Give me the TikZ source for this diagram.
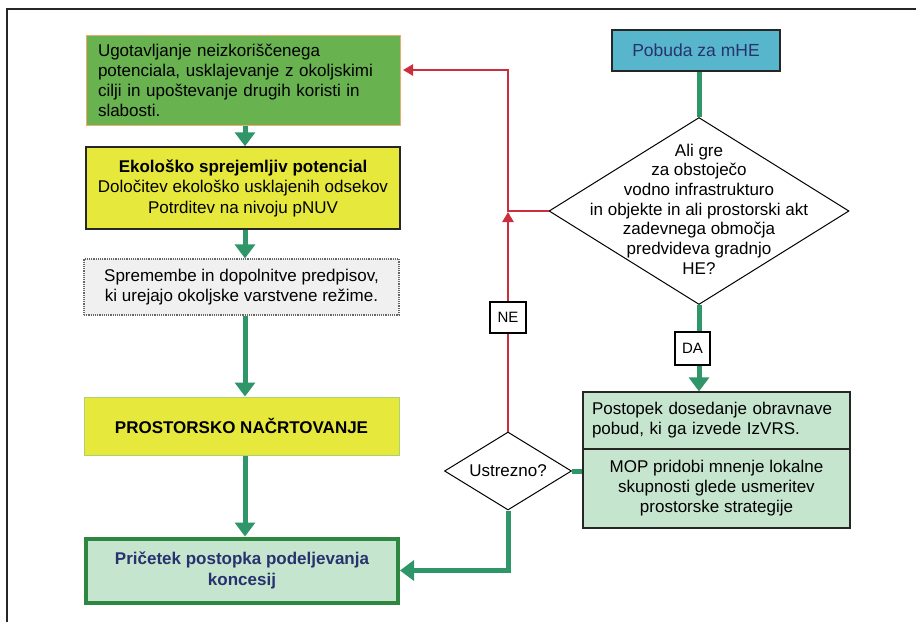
\documentclass[tikz,border=0pt]{standalone}
\usepackage{fontspec}
\setmainfont{Liberation Sans}
\usetikzlibrary{shapes.geometric,arrows.meta}
\definecolor{gArrow}{RGB}{46,150,104}
\definecolor{rArrow}{RGB}{205,45,60}
\definecolor{boxgreen}{RGB}{104,178,80}
\definecolor{boxorange}{RGB}{240,170,110}
\definecolor{boxyellow}{RGB}{230,232,60}
\definecolor{yellowedge}{RGB}{170,210,110}
\definecolor{lightgreen}{RGB}{198,229,206}
\definecolor{darkgreen}{RGB}{45,135,65}
\definecolor{pobudafill}{RGB}{88,182,204}
\definecolor{navy}{RGB}{40,50,110}
\definecolor{graybox}{RGB}{240,240,240}
\tikzset{
  base/.style={rectangle, inner sep=0pt, font=\fontsize{17}{20}\selectfont, align=center},
  garrow/.style={draw=gArrow, line width=5pt, -{Triangle[width=20pt,length=14pt]}},
  gline/.style={draw=gArrow, line width=5pt},
  rline/.style={draw=rArrow, line width=2.4pt},
  rarrow/.style={rline, -{Triangle[width=11pt,length=10pt]}},
  lab/.style={rectangle, draw=black, line width=1.2pt, fill=white, inner sep=0pt, font=\fontsize{15}{17}\selectfont},
  dia/.style={diamond, draw=black, line width=1pt, fill=white, inner sep=0pt}
}
\begin{document}
\begin{tikzpicture}[x=1pt,y=-1pt]
\useasboundingbox (0,0) rectangle (916,622);
\fill[white] (0,0) rectangle (916,622);
% frame
\coordinate (fbl) at (7,622);
\coordinate (ftl) at (7,9);
\coordinate (ftr) at (916,9);
\draw[line width=1.5pt, black!85] (fbl) -- (ftl) -- (ftr);

% left column
\node[base, draw=boxorange, line width=1pt, fill=boxgreen, minimum width=314, minimum height=90,
      text width=290, align=left] (b1) at (243,80)
  {Ugotavljanje neizkoriščenega\\potenciala, usklajevanje z okoljskimi\\cilji in upoštevanje drugih koristi in\\slabosti.};
\node[base, draw=black!85, line width=1.5pt, fill=boxyellow, minimum width=314, minimum height=82,
      font=\fontsize{17}{20.5}\selectfont] (b2) at (243,188)
  {\textbf{Ekološko sprejemljiv potencial}\\Določitev ekološko usklajenih odsekov\\Potrditev na nivoju pNUV};
\node[base, draw=black!60, densely dotted, line width=1.2pt, fill=graybox, minimum width=315, minimum height=56,
      font=\fontsize{17}{20.5}\selectfont] (b3) at (241.5,287)
  {Spremembe in dopolnitve predpisov,\\ki urejajo okoljske varstvene režime.};
\node[base, draw=yellowedge, line width=1pt, fill=boxyellow, minimum width=315, minimum height=58,
      font=\fontsize{17}{20}\selectfont\bfseries] (b4) at (241.5,426)
  {PROSTORSKO NAČRTOVANJE};
\node[base, draw=darkgreen, line width=4pt, fill=lightgreen, minimum width=312, minimum height=64,
      text=navy, font=\fontsize{17}{20.5}\selectfont\bfseries] (b5) at (242,570.5)
  {Pričetek postopka podeljevanja\\koncesij};

% right column
\node[base, draw=black!85, line width=1.5pt, fill=pobudafill, minimum width=168, minimum height=41,
      text=navy, font=\fontsize{17.5}{20}\selectfont] (p) at (696,50.5) {Pobuda za mHE};
\node[dia, minimum width=300, minimum height=187] (d1) at (699,211) {};
\node[base, font=\fontsize{17}{19.7}\selectfont] (d1t) at (699,209)
  {Ali gre\\za obstoječo\\vodno infrastrukturo\\in objekte in ali prostorski akt\\zadevnega območja\\predvideva gradnjo\\HE?};
\node[base, draw=black!85, line width=1.3pt, fill=lightgreen, minimum width=267, minimum height=57,
      text width=249, align=left, font=\fontsize{17}{20}\selectfont] (r1) at (716.5,420.5)
  {Postopek dosedanje obravnave\\pobud, ki ga izvede IzVRS.};
\node[base, draw=black!85, line width=1.3pt, fill=lightgreen, minimum width=267, minimum height=79,
      font=\fontsize{17}{20}\selectfont] (r2) at (716.5,488.5)
  {MOP pridobi mnenje lokalne\\skupnosti glede usmeritev\\prostorske strategije};
\node[dia, minimum width=127, minimum height=78] (d2) at (508,471) {};
\node[base, font=\fontsize{17}{19}\selectfont] (d2t) at (508,471) {Ustrezno?};

% labels
\node[lab, minimum width=36, minimum height=31] (ne) at (508,317.5) {NE};
\node[lab, minimum width=35, minimum height=33] (da) at (692.5,348.5) {DA};

% green connectors
\draw[garrow] (b1.south -| 245,0) -- (b2.north -| 245,0);
\draw[garrow] (b2.south -| 245,0) -- (b3.north -| 245,0);
\draw[garrow] (b3.south -| 245,0) -- (b4.north -| 245,0);
\draw[garrow] (b4.south -| 245,0) -- (b5.north -| 245,0);
\draw[gline] (p.south -| d1.north) -- (d1.north);
\draw[gline] (d1.south) -- (d1.south |- da.north);
\draw[garrow] (d1.south |- da.south) -- (d1.south |- r1.north);
\draw[gline] (r2.west |- d2.east) -- (d2.east);
\coordinate (gcorner) at (508,570.5);
\draw[garrow] (d2.south) -- (gcorner) -- (b5.east);

% red connectors
\coordinate (rj) at (508,211);
\coordinate (rt) at (508,70);
\coordinate (b1a) at (403,70);
\draw[rarrow] (d1.west) -- (rj) -- (rt) -- (b1a);
\draw[rline] (d2.north) -- (ne.south);
\draw[rarrow] (ne.north) -- ([yshift=-1pt]rj);
\end{tikzpicture}
\end{document}
